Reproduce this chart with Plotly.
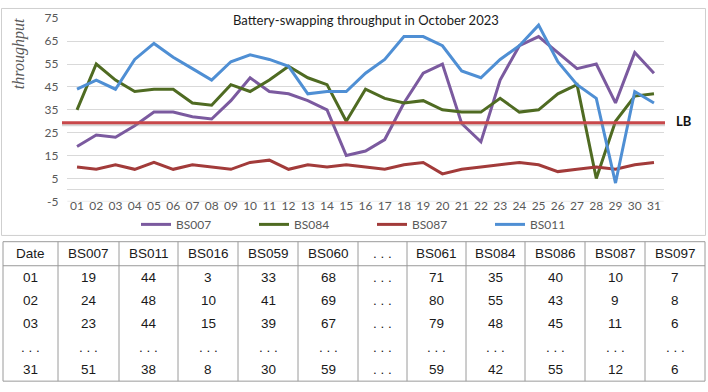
import plotly.graph_objects as go

# ---------------- data ----------------
days = ["01", "02", "03", "04", "05", "06", "07", "08", "09", "10", "11", "12", "13", "14", "15", "16",
        "17", "18", "19", "20", "21", "22", "23", "24", "25", "26", "27", "28", "29", "30", "31"]
bs007 = [19, 24, 23, 28, 34, 34, 32, 31, 39, 49, 43, 42, 39, 35, 15, 17,
         22, 38, 51, 55, 29, 21, 48, 63, 67, 60, 53, 55, 38, 60, 51]
bs084 = [35, 55, 48, 43, 44, 44, 38, 37, 46, 43, 48, 54, 49, 46, 30, 44,
         40, 38, 39, 35, 34, 34, 40, 34, 35, 42, 46, 5, 30, 41, 42]
bs087 = [10, 9, 11, 9, 12, 9, 11, 10, 9, 12, 13, 9, 11, 10, 11, 10,
         9, 11, 12, 7, 9, 10, 11, 12, 11, 8, 9, 10, 9, 11, 12]
bs011 = [44, 48, 44, 57, 64, 58, 53, 48, 56, 59, 57, 54, 42, 43, 43, 51,
         57, 67, 67, 63, 52, 49, 57, 63, 72, 56, 46, 40, 3, 43, 38]
lb_value = 29.4

y_tick_values = [-5, 5, 15, 25, 35, 45, 55, 65, 75]
y_tick_labels = ["-5", "5", "15", "25", "35", "45", "55", "65", "75"]

series_names = ["BS007", "BS084", "BS087", "BS011"]
series_values = [bs007, bs084, bs087, bs011]
series_colors = ["#7B5A9F", "#4F6B22", "#A23B3A", "#4F8FD4"]

table_header = ["Date", "BS007", "BS011", "BS016", "BS059", "BS060", ". . .",
                "BS061", "BS084", "BS086", "BS087", "BS097"]
table_dates = ["01", "02", "03", ". . .", "31"]
t_bs007 = ["19", "24", "23", ". . .", "51"]
t_bs011 = ["44", "48", "44", ". . .", "38"]
t_bs016 = ["3", "10", "15", ". . .", "8"]
t_bs059 = ["33", "41", "39", ". . .", "30"]
t_bs060 = ["68", "69", "67", ". . .", "59"]
t_gap = [". . .", ". . .", ". . .", ". . .", ". . ."]
t_bs061 = ["71", "80", "79", ". . .", "59"]
t_bs084 = ["35", "55", "48", ". . .", "42"]
t_bs086 = ["40", "43", "45", ". . .", "55"]
t_bs087 = ["10", "9", "11", ". . .", "12"]
t_bs097 = ["7", "8", "6", ". . .", "6"]
table_columns = [table_dates, t_bs007, t_bs011, t_bs016, t_bs059, t_bs060, t_gap,
                 t_bs061, t_bs084, t_bs086, t_bs087, t_bs097]

# ---------------- layout helpers ----------------
W, H = 708, 392


def px(x):
    return x / W


def py(y):
    return 1 - y / H


CHART_FONT = "Lato"
TABLE_FONT = "Liberation Sans"
GREY = "#595959"
PLOT_X0, PLOT_X1 = 67.4, 663.6

fig = go.Figure()
for name, vals, col in zip(series_names, series_values, series_colors):
    fig.add_trace(go.Scatter(x=days, y=vals, name=name, mode="lines",
                             line=dict(color=col, width=3)))

shapes = []
annotations = []

# chart border
shapes.append(dict(type="rect", xref="paper", yref="paper",
                   x0=px(1.5), x1=px(705.5), y0=py(236.5), y1=py(0.5),
                   line=dict(color="#cfcfcf", width=1), layer="below"))

# bottom gridline at the range edge
shapes.append(dict(type="line", xref="paper", yref="y", x0=px(PLOT_X0), x1=px(PLOT_X1),
                   y0=y_tick_values[0], y1=y_tick_values[0],
                   line=dict(color="#d9d9d9", width=1), layer="below"))

# LB line with soft shadow
shapes.append(dict(type="line", xref="paper", yref="y", x0=px(62), x1=px(665),
                   y0=lb_value - 0.9, y1=lb_value - 0.9,
                   line=dict(color="rgba(140,140,140,0.35)", width=3)))
shapes.append(dict(type="line", xref="paper", yref="y", x0=px(62), x1=px(665),
                   y0=lb_value, y1=lb_value,
                   line=dict(color="#C8474A", width=3)))
annotations.append(dict(text="<b>LB</b>", xref="paper", yref="y", x=px(684), y=lb_value + 0.8,
                        xanchor="center", yanchor="middle",
                        showarrow=False, font=dict(family=CHART_FONT, size=13, color="#111111")))

# title and y title
annotations.append(dict(text="Battery-swapping throughput in October 2023", xref="paper", yref="paper",
                        x=px(366), y=py(12), xanchor="center", yanchor="middle", showarrow=False,
                        font=dict(family=CHART_FONT, size=13, color="#1a1a1a")))
annotations.append(dict(text="<i>throughput</i>", xref="paper", yref="paper",
                        x=px(19), y=py(48), xanchor="center", yanchor="middle",
                        textangle=-90, showarrow=False,
                        font=dict(family="Liberation Serif", size=16, color=GREY)))

# ---------------- table ----------------
col_edges = [3, 58, 119, 178, 238, 298, 358, 407, 466, 525, 585, 645, 705]
table_top, header_bottom, table_bottom = 243, 268, 388
header_y = 255.5
row_ys = [280, 304, 328, 353, 376]
TLINE = "#9a9a9a"

shapes.append(dict(type="rect", xref="paper", yref="paper",
                   x0=px(col_edges[0]), x1=px(col_edges[-1]),
                   y0=py(table_bottom), y1=py(table_top), line=dict(color=TLINE, width=1)))
shapes.append(dict(type="line", xref="paper", yref="paper",
                   x0=px(col_edges[0]), x1=px(col_edges[-1]),
                   y0=py(header_bottom), y1=py(header_bottom), line=dict(color=TLINE, width=1)))
for e in col_edges[1:-1]:
    shapes.append(dict(type="line", xref="paper", yref="paper", x0=px(e), x1=px(e),
                       y0=py(table_bottom), y1=py(table_top), line=dict(color=TLINE, width=1)))

for i, (head, colvals) in enumerate(zip(table_header, table_columns)):
    cx = (col_edges[i] + col_edges[i + 1]) / 2
    annotations.append(dict(text=head, xref="paper", yref="paper", x=px(cx), y=py(header_y),
                            xanchor="center", yanchor="middle", showarrow=False,
                            font=dict(family=TABLE_FONT, size=13.5, color="#1a1a1a")))
    for v, ry in zip(colvals, row_ys):
        annotations.append(dict(text=v, xref="paper", yref="paper", x=px(cx), y=py(ry),
                                xanchor="center", yanchor="middle", showarrow=False,
                                font=dict(family=TABLE_FONT, size=13.5, color="#1a1a1a")))

fig.update_layout(
    width=W, height=H, margin=dict(l=0, r=0, t=0, b=0),
    paper_bgcolor="white", plot_bgcolor="white",
    font=dict(family=CHART_FONT, color=GREY),
    xaxis=dict(type="category", domain=[px(PLOT_X0), px(PLOT_X1)], range=[-0.5, 30.5],
               showgrid=False, zeroline=False, showline=False, ticks="",
               tickfont=dict(family=CHART_FONT, size=12, color=GREY),
               ticklabelstandoff=-4),
    yaxis=dict(domain=[py(201.1), py(10.67)], range=[-5.02, 75],
               tickmode="array", tickvals=y_tick_values, ticktext=y_tick_labels,
               showgrid=True, gridcolor="#d9d9d9", gridwidth=1,
               zeroline=True, zerolinecolor="#d9d9d9", zerolinewidth=1,
               showline=False, ticks="",
               tickfont=dict(family=CHART_FONT, size=12, color=GREY),
               ticklabelstandoff=8),
    showlegend=True,
    legend=dict(orientation="h", x=px(136), xanchor="left", y=py(225), yanchor="middle",
                entrywidth=73, entrywidthmode="pixels",
                font=dict(family=CHART_FONT, size=12, color=GREY),
                bgcolor="rgba(0,0,0,0)", itemwidth=30),
    shapes=shapes, annotations=annotations,
)

fig.write_html("out.html")
